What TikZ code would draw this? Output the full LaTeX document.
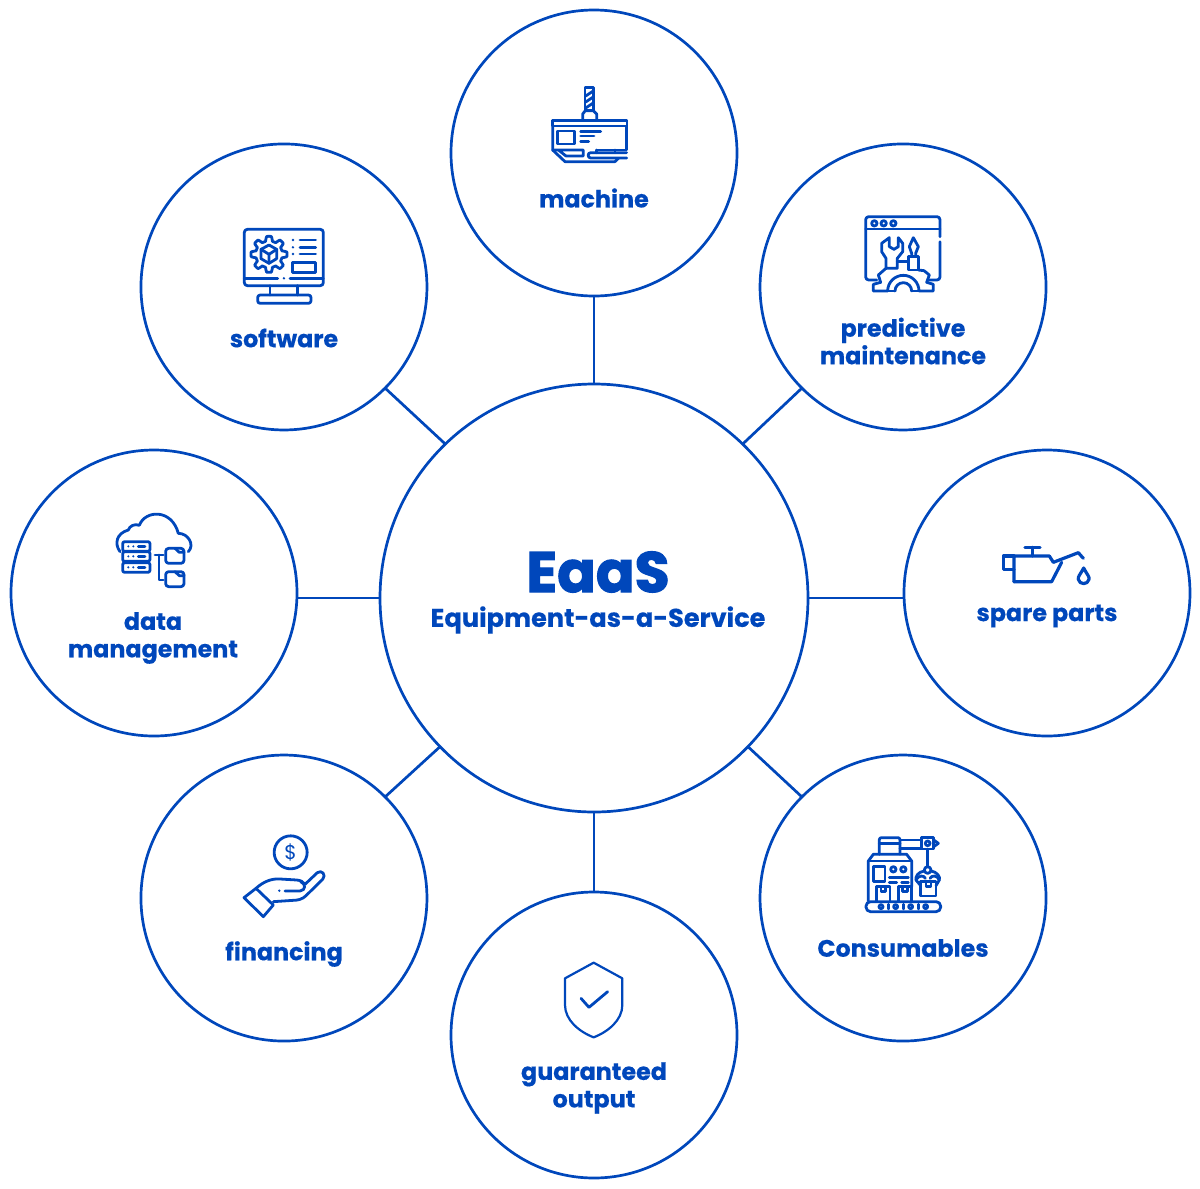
\documentclass[tikz,border=0pt]{standalone}
\usepackage{fontspec}
\setmainfont[BoldFeatures={FakeBold=0.5}]{Poppins}
\newfontfamily\heavyfont[BoldFeatures={FakeBold=2}]{Poppins}
\usepackage{tikz}
\usetikzlibrary{positioning,calc}
\definecolor{eaasblue}{RGB}{0,71,187}
\tikzset{
  hubcircle/.style = {draw=eaasblue, circle, line width=2.7pt, minimum size=428pt, inner sep=0pt, outer sep=0pt},
  satcircle/.style = {draw=eaasblue, circle, line width=2.7pt, minimum size=286pt, inner sep=0pt, outer sep=0pt},
  spoke/.style     = {draw=eaasblue, line width=2.7pt},
  satlabel/.style  = {text=eaasblue, align=center, inner sep=0pt, font=\fontsize{23.8}{27.5}\selectfont\bfseries},
  iconline/.style  = {draw=eaasblue, line width=2.8pt, line join=round, line cap=round},
  iconarea/.style  = {x=0.3333pt, y=-0.3333pt, iconline},
}
\begin{document}
\begin{tikzpicture}[x=1pt,y=-1pt]
  \useasboundingbox (0,0) rectangle (1200,1189);
  \node[hubcircle] (hub) at (594,598) {};
  \node[satcircle, above=88pt of hub] (machine) {};
  \node[satcircle, below=80pt of hub] (guaranteed) {};
  \node[satcircle, left=83pt of hub, yshift=5pt] (data) {};
  \node[satcircle, right=96pt of hub, yshift=5pt] (spare) {};
  \node[satcircle, above left=58.6pt and 57.6pt of hub] (software) {};
  \node[satcircle, above right=58.6pt and 56.6pt of hub] (predictive) {};
  \node[satcircle, below left=47.6pt and 57.6pt of hub] (financing) {};
  \node[satcircle, below right=47.6pt and 56.6pt of hub] (consumables) {};

  \draw[spoke] (hub.north) -- (machine.south);
  \draw[spoke] (hub.south) -- (guaranteed.north);
  \draw[spoke] (hub.west) -- (hub.west -| data.east);
  \draw[spoke] (hub.east) -- (hub.east -| spare.west);
  \draw[spoke] (hub.134) -- (software.-45);
  \draw[spoke] (hub.46) -- (predictive.225);
  \draw[spoke] (hub.224) -- (financing.45);
  \draw[spoke] (hub.316) -- (consumables.135);

  \node[text=eaasblue, inner sep=0pt, font=\heavyfont\fontsize{57}{60}\selectfont\bfseries] (eaas) at (598,572) {EaaS};
  \node[text=eaasblue, inner sep=0pt, font=\fontsize{25.6}{30}\selectfont\bfseries] (eaasfull) at (598,620) {Equipment-as-a-Service};
  \node[satlabel] (machinetxt) at (594,198) {machine};
  \node[satlabel] (softwaretxt) at (284,338) {software};
  \node[satlabel] (predictivetxt) at (903,341) {predictive\\maintenance};
  \node[satlabel] (datatxt) at (153,638) {data\\management};
  \node[satlabel] (sparetxt) at (1047,616) {spare parts};
  \node[satlabel] (financingtxt) at (284,954) {financing};
  \node[satlabel] (consumablestxt) at (903,948) {Consumables};
  \node[satlabel] (guaranteedtxt) at (594,1088) {guaranteed\\output};

  % machine
  \begin{scope}[shift={(530,70)},iconarea]
    \draw (165,122) rectangle (190,52);
    \foreach \yy in {70,88,106} \draw (167,\yy+8) -- (188,\yy-6);
    \draw (158,150) -- (158,132) -- (166,122) -- (190,122) -- (200,132) -- (200,150);
    \draw (67,152) rectangle (291,168);
    \draw (68,168) -- (68,240) -- (105,275) -- (255,275) -- (266,264);
    \draw (290,168) -- (290,240) -- (200,240);
    \draw (68,240) -- (160,240) -- (160,258) -- (108,258) -- (85,240);
    \draw (82,183) rectangle (133,222);
    \draw (152,184) -- (212,184) (152,198) -- (192,198) (152,214) -- (176,214);
    \draw (290,248) -- (182,248) to[out=180,in=180,looseness=1.6] (182,264) -- (290,264);
    \draw (200,240) -- (200,248) (255,240) -- (255,248);
  \end{scope}

  % software
  \begin{scope}[shift={(225,215)},iconarea]
    \draw[rounded corners=3pt] (58,43) rectangle (295,212);
    \draw (58,190) -- (158,190) (195,190) -- (295,190);
    \fill[eaasblue] (177,190) circle (4);
    \draw (135,212) -- (135,240) (218,212) -- (218,240);
    \draw[rounded corners=2.5pt] (98,240) rectangle (258,265);
    \draw plot[domain=0:360,samples=145] ({132+(47+7*max(-1,min(1,2*cos(8*\x))))*cos(\x)},{118+(47+7*max(-1,min(1,2*cos(8*\x))))*sin(\x)}) -- cycle;
    \draw (132,90) -- (155,103) -- (155,131) -- (132,145) -- (108,131) -- (108,103) -- cycle;
    \draw (108,103) -- (132,118) -- (155,103) (132,118) -- (132,145);
    \foreach \yy in {75,97,117} {
      \fill[eaasblue] (204,\yy) circle (4);
      \draw (225,\yy) -- (272,\yy);
    }
    \draw (203,142) rectangle (272,172);
  \end{scope}

  % predictive maintenance
  \begin{scope}[shift={(850,205)},iconarea]
    \draw[rounded corners=3pt] (80,225) -- (47,225) -- (47,35) -- (270,35) -- (270,95);
    \draw[rounded corners=3pt] (270,110) -- (270,225) -- (238,225);
    \draw (47,72) -- (270,72);
    \foreach \xx in {73,101,130} \draw (\xx,55) circle (8);
    \draw (118,98) -- (118,125) -- (132,133) -- (145,125) -- (145,98) -- (158,115) -- (158,140) -- (142,160) -- (142,190) -- (108,190) -- (108,160) -- (95,140) -- (95,115) -- cycle;
    \draw (190,98) -- (205,125) -- (197,145) -- (197,155) (190,98) -- (178,125) -- (185,145) -- (185,155);
    \draw (142,170) -- (175,170);
    \draw (175,155) rectangle (205,195);
    \draw (108,190) -- (85,210) -- (92,232) -- (70,238) -- (70,258) -- (113,258) arc[start angle=180,end angle=360,radius=47] -- (250,258) -- (250,238) -- (230,232) -- (238,210) -- (222,197) -- (205,195);
    \draw (135,258) arc[start angle=180,end angle=360,radius=25];
    \draw (113,258) -- (135,258) (185,258) -- (207,258);
  \end{scope}

  % data management
  \begin{scope}[shift={(100,500)},iconarea]
    \draw (60,155) .. controls (42,130) and (50,100) .. (85,90) .. controls (88,78) and (105,70) .. (118,76) .. controls (135,30) and (215,25) .. (235,100) .. controls (265,100) and (285,135) .. (265,155);
    \foreach \yy in {125,155,188} {
      \draw[rounded corners=2pt] (68,\yy) rectangle (150,\yy+29);
      \fill[eaasblue] (85,\yy+14) circle (3.5) (100,\yy+14) circle (3.5);
      \draw (115,\yy+14) -- (135,\yy+14);
    }
    \draw (165,165) -- (190,165) (177,165) -- (177,240) -- (190,240);
    \foreach \yy in {145,215} {
      \draw[rounded corners=3pt] (197,\yy) rectangle (252,\yy+45);
      \draw (225,\yy) -- (238,\yy+12) -- (252,\yy+12);
    }
  \end{scope}

  % spare parts
  \begin{scope}[shift={(990,530)},iconarea]
    \draw[line width=3.2pt] (105,52) -- (150,52) (128,52) -- (128,78);
    \draw[line width=3.2pt] (72,155) -- (72,78) -- (178,78) -- (190,97) -- (265,68) -- (280,85);
    \draw[line width=3.2pt] (72,155) -- (185,155) -- (215,97);
    \draw[line width=3.2pt] (72,78) -- (40,78) -- (40,118) -- (72,118);
    \draw[line width=3.2pt] (281,114) .. controls (270,135) and (263,140) .. (265,148) .. controls (268,165) and (294,165) .. (297,148) .. controls (299,140) and (292,135) .. (281,114) -- cycle;
  \end{scope}

  % financing
  \begin{scope}[shift={(230,825)},iconarea]
    \node[circle, draw=eaasblue, line width=2.8pt, minimum size=33pt, inner sep=0pt, text=eaasblue, font=\fontsize{20}{20}\selectfont] (coin) at (182,82) {\$};
    \draw (42,218) -- (78,190) -- (130,240) -- (100,275) -- cycle;
    \draw (78,190) .. controls (100,170) and (125,160) .. (150,162) -- (200,165) .. controls (212,166) and (220,170) .. (225,178) -- (262,143) .. controls (275,133) and (290,150) .. (278,163) -- (228,212) .. controls (218,222) and (205,226) .. (190,226) -- (130,230);
    \draw (165,198) -- (210,198) .. controls (228,196) and (228,176) .. (212,170);
    \fill[eaasblue] (148,197) circle (4);
  \end{scope}

  % consumables
  \begin{scope}[shift={(850,825)},iconarea]
    \draw[rounded corners=2pt] (88,88) -- (88,38) -- (150,38) -- (150,88);
    \draw (88,55) -- (150,55);
    \draw (150,45) -- (215,45) (150,70) -- (215,70);
    \draw (215,38) rectangle (250,72);
    \draw (233,55) circle (7);
    \draw (250,44) -- (265,55) -- (250,66);
    \draw (233,72) -- (233,125);
    \draw (233,135) circle (10);
    \draw (223,138) .. controls (205,140) and (195,155) .. (198,165) -- (212,182) (243,138) .. controls (260,140) and (272,155) .. (268,165) -- (258,182);
    \draw (198,165) .. controls (205,150) and (222,150) .. (226,160) (240,160) .. controls (245,150) and (262,150) .. (268,165);
    \draw (212,170) rectangle (258,213);
    \draw (228,170) -- (228,185) -- (243,185) -- (243,170);
    \draw (55,228) -- (55,108) -- (70,88) -- (170,88) -- (185,108) -- (185,185);
    \draw (55,108) -- (185,108);
    \draw (70,125) rectangle (105,170);
    \draw (130,133) circle (8) (160,133) circle (8);
    \draw (118,157) -- (175,157) (118,172) -- (140,172) (155,172) -- (175,172);
    \foreach \xx in {80,145} {
      \draw (\xx,228) -- (\xx,185) -- (\xx+40,185) -- (\xx+40,228);
      \draw (\xx+13,185) -- (\xx+13,200) -- (\xx+27,200) -- (\xx+27,185);
    }
    \draw[rounded corners=4.5pt] (48,230) rectangle (272,260);
    \foreach \xx in {93,137,182,227} \draw (\xx,245) circle (6);
    \foreach \xx in {115,160,205} \draw (\xx,238) -- (\xx,252);
  \end{scope}

  % guaranteed output
  \begin{scope}[shift={(545,950)},iconarea]
    \draw[line width=2.2pt] (146,38) -- (232,85) -- (232,165) .. controls (232,210) and (190,245) .. (146,262) .. controls (102,245) and (60,210) .. (60,165) -- (60,85) -- cycle;
    \draw (108,145) -- (132,172) -- (188,125);
  \end{scope}
\end{tikzpicture}
\end{document}
